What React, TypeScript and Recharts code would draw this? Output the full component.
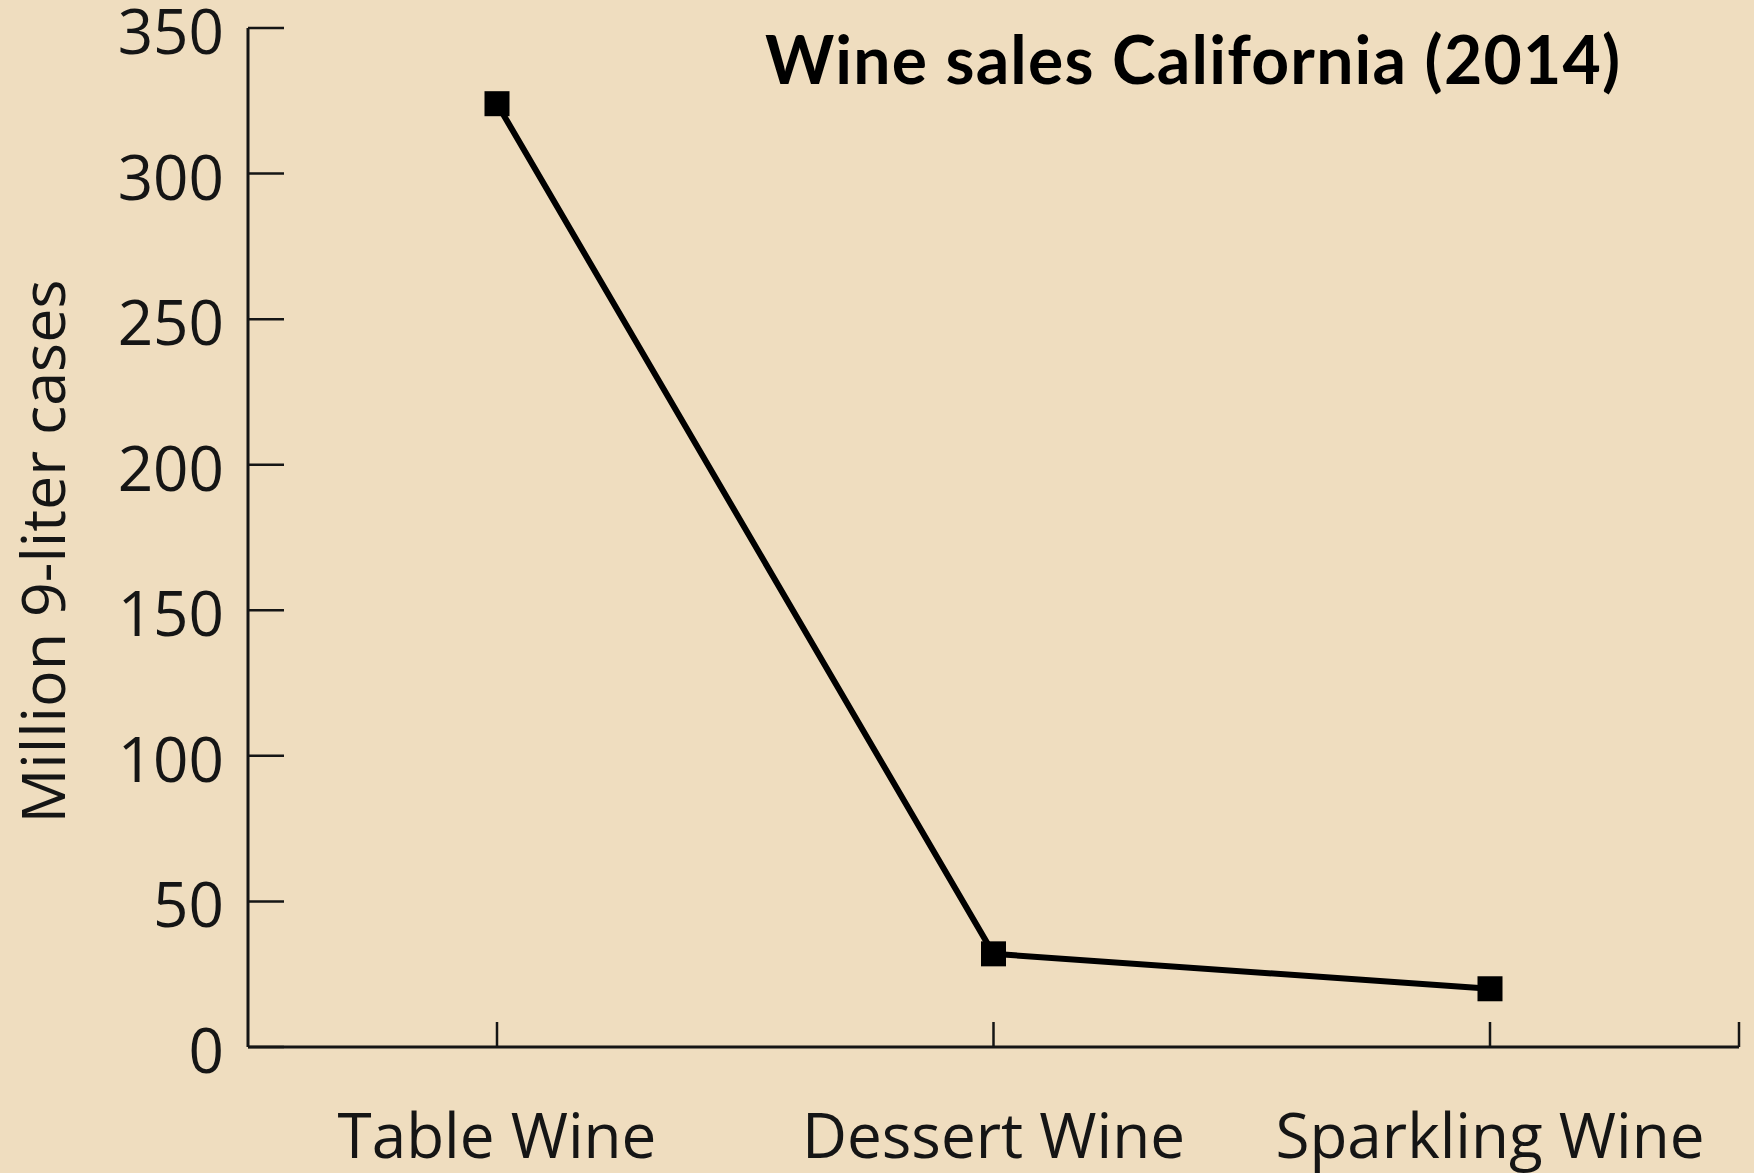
import React from 'react';
import { LineChart, Line, XAxis, YAxis, Label } from 'recharts';

const categories = ['Table Wine', 'Dessert Wine', 'Sparkling Wine'];
const sales = [324, 32, 20];
const yTicks = [0, 50, 100, 150, 200, 250, 300, 350];
const title = 'Wine sales California (2014)';
const yLabel = 'Million 9-liter cases';

const data = categories.map((name, i) => ({ name, sales: sales[i] }));

const BG = '#EFDDBF';
const INK = '#151515';
const FONT = '"Open Sans", "Noto Sans", sans-serif';

const X_PAD = 249;
const X_TICK_LEN = 25;
const X_TICK_MARGIN = 92;

const SquareDot = (props: any) => {
  const { cx, cy, index } = props;
  if (cx == null || cy == null) return null;
  return <rect key={`d${index}`} x={cx - 12.5} y={cy - 12.5} width={25} height={25} fill="#000" />;
};

const XTick = (props: any) => {
  const { x, y, payload, index } = props;
  const axisY = y - X_TICK_MARGIN + X_TICK_LEN;
  const isLast = index === categories.length - 1;
  return (
    <g>
      <text x={x} y={y} dy="0.71em" textAnchor="middle" fontFamily={FONT} fontSize={62} fill={INK}>
        {payload.value}
      </text>
      {isLast && (
        <line
          x1={x + X_PAD}
          x2={x + X_PAD}
          y1={axisY}
          y2={axisY - X_TICK_LEN}
          stroke={INK}
          strokeWidth={2.5}
        />
      )}
    </g>
  );
};

const YLabelContent = (props: any) => {
  const vb = props.viewBox || {};
  const cx = 65;
  const cy = (vb.y || 0) + (vb.height || 0) / 2 + 14;
  return (
    <text
      transform={`translate(${cx}, ${cy}) rotate(-90)`}
      textAnchor="middle"
      fontFamily={FONT}
      fontSize={61}
      fill={INK}
    >
      {yLabel}
    </text>
  );
};

export default function App() {
  return (
    <div style={{ position: 'relative', width: 1754, height: 1173, background: BG, overflow: 'hidden' }}>
      <style>{`body{margin:0}`}</style>
      <LineChart
        width={1754}
        height={1173}
        data={data}
        margin={{ top: 28, right: 15, bottom: 0, left: 0 }}
      >
        <XAxis
          dataKey="name"
          height={126}
          padding={{ left: X_PAD, right: X_PAD }}
          axisLine={{ stroke: INK, strokeWidth: 3 }}
          tickLine={{ stroke: INK, strokeWidth: 2.5 }}
          tickSize={-X_TICK_LEN}
          tickMargin={X_TICK_MARGIN}
          tick={XTick}
          interval={0}
        />
        <YAxis
          width={248}
          domain={[0, 350]}
          ticks={yTicks}
          interval={0}
          axisLine={{ stroke: INK, strokeWidth: 3 }}
          tickLine={{ stroke: INK, strokeWidth: 2.5 }}
          tickSize={-36}
          tickMargin={60}
          tick={{ fontSize: 62, fontFamily: FONT, fill: INK, dy: 4 }}
        >
          <Label content={YLabelContent} />
        </YAxis>
        <Line
          type="linear"
          dataKey="sales"
          stroke="#000"
          strokeWidth={6}
          dot={SquareDot}
          activeDot={false}
          isAnimationActive={false}
        />
      </LineChart>
      <svg
        width={1754}
        height={1173}
        style={{ position: 'absolute', left: 0, top: 0, pointerEvents: 'none' }}
      >
        <text
          x={765}
          y={84}
          fontFamily="Lato, sans-serif"
          fontWeight={700}
          fontSize={66}
          fill="#000"
          textLength={855}
          lengthAdjust="spacing"
        >
          {title}
        </text>
      </svg>
    </div>
  );
}
